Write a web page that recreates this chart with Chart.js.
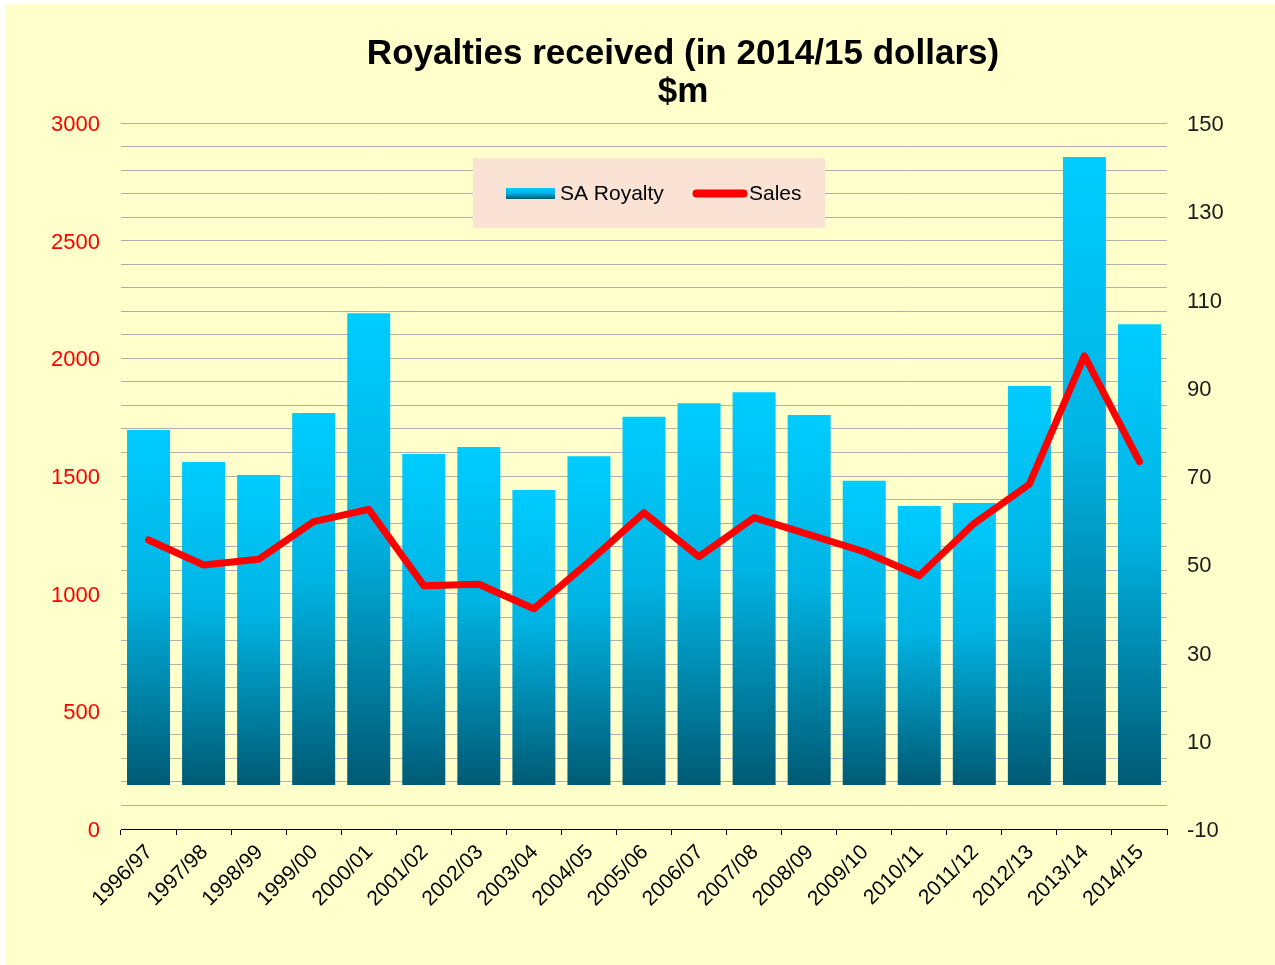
<!DOCTYPE html>
<html>
<head>
<meta charset="utf-8">
<script src="https://cdn.jsdelivr.net/npm/chart.js@4.4.1/dist/chart.umd.min.js"></script>
<style>
  html, body { margin: 0; padding: 0; background: #ffffff; }
  #wrap { position: absolute; left: 5px; top: 4px; width: 1270px; height: 961px; background: #FFFFCC; }
  canvas { display: block; }
</style>
</head>
<body>
<div id="wrap"><canvas id="c" width="1270" height="961"></canvas></div>
<script>
const TITLE_LINES = ['Royalties received (in 2014/15 dollars)', '$m'];
const categories = ['1996/97','1997/98','1998/99','1999/00','2000/01','2001/02','2002/03','2003/04','2004/05','2005/06','2006/07','2007/08','2008/09','2009/10','2010/11','2011/12','2012/13','2013/14','2014/15'];
const royaltyLabel = 'SA Royalty';
const royalty = [80.4, 73.2, 70.2, 84.3, 106.9, 75.0, 76.6, 66.8, 74.5, 83.4, 86.5, 89.0, 83.8, 68.9, 63.2, 63.9, 90.4, 142.3, 104.4];
const salesLabel = 'Sales';
const sales = [1228, 1122, 1146, 1306, 1358, 1034, 1040, 936, 1135, 1344, 1157, 1323, 1251, 1178, 1076, 1299, 1465, 2010, 1561];
const leftTicks = { min: 0, max: 3000, step: 100, labelEvery: 500 };
const rightTicks = { min: -10, max: 150, step: 20 };

const FONT = '"Liberation Sans", Arial, Helvetica, sans-serif';
const CYAN = '#00CCFF';

function addStops(g) {
  g.addColorStop(0, '#00CCFF');
  g.addColorStop(0.45, '#00B4E4');
  g.addColorStop(1, '#005A74');
  return g;
}

function barFill(ctx) {
  const chart = ctx.chart;
  if (!chart.chartArea || ctx.type !== 'data' || !chart.scales.y1) return CYAN;
  const s = chart.scales.y1;
  const top = s.getPixelForValue(ctx.raw);
  const base = s.getPixelForValue(0);
  if (!isFinite(top) || !isFinite(base) || top === base) return CYAN;
  return addStops(chart.ctx.createLinearGradient(0, top, 0, base));
}

const overlayPlugin = {
  id: 'overlay',
  afterDraw(chart) {
    const c = chart.ctx;
    c.save();
    // Title
    c.fillStyle = '#000000';
    c.font = 'bold 35px ' + FONT;
    c.textAlign = 'center';
    c.textBaseline = 'alphabetic';
    c.fillText(TITLE_LINES[0], 678, 60);
    c.fillText(TITLE_LINES[1], 678, 98);
    // Legend box
    c.fillStyle = '#FAE3D5';
    c.fillRect(468, 154, 352, 70);
    // Royalty swatch
    c.fillStyle = addStops(c.createLinearGradient(0, 184, 0, 195));
    c.fillRect(501, 184, 49, 11);
    c.fillStyle = '#000000';
    c.font = '21px ' + FONT;
    c.textAlign = 'left';
    c.fillText(chart.data.datasets[1].label, 555, 196);
    // Sales swatch
    c.strokeStyle = '#FF0000';
    c.lineWidth = 8;
    c.lineCap = 'round';
    c.beginPath();
    c.moveTo(691.5, 189.5);
    c.lineTo(738.5, 189.5);
    c.stroke();
    c.fillText(chart.data.datasets[0].label, 744, 196);
    c.restore();
  }
};

new Chart(document.getElementById('c'), {
  type: 'bar',
  data: {
    labels: categories,
    datasets: [
      {
        type: 'line',
        label: salesLabel,
        data: sales,
        yAxisID: 'y',
        borderColor: '#FF0000',
        backgroundColor: '#FF0000',
        borderWidth: 7,
        pointRadius: 0,
        pointHoverRadius: 0,
        tension: 0,
        borderJoinStyle: 'round',
        borderCapStyle: 'round',
        fill: false,
        order: 0
      },
      {
        type: 'bar',
        label: royaltyLabel,
        data: royalty,
        yAxisID: 'y1',
        backgroundColor: barFill,
        borderWidth: 0,
        barPercentage: 0.781,
        categoryPercentage: 1.0,
        order: 1
      }
    ]
  },
  options: {
    responsive: false,
    animation: false,
    events: [],
    layout: { padding: { top: 119, left: 0, right: 0, bottom: 0 } },
    plugins: {
      legend: { display: false },
      title: { display: false },
      tooltip: { enabled: false }
    },
    scales: {
      x: {
        position: 'bottom',
        offset: true,
        grid: {
          display: true,
          offset: true,
          drawOnChartArea: false,
          drawTicks: true,
          tickLength: 6,
          color: '#000000'
        },
        border: { display: true, color: '#000000', width: 1 },
        ticks: {
          autoSkip: false,
          minRotation: 45,
          maxRotation: 45,
          padding: 5,
          labelOffset: 1,
          color: '#000000',
          font: { family: FONT, size: 21 }
        },
        afterFit(scale) { scale.height = 136; }
      },
      y: {
        position: 'left',
        min: leftTicks.min,
        max: leftTicks.max,
        grid: { color: '#B0B0B0', lineWidth: 1, drawTicks: false },
        border: { display: false },
        ticks: {
          stepSize: leftTicks.step,
          autoSkip: false,
          padding: 21,
          labelOffset: 2,
          color: '#FF0000',
          font: { family: FONT, size: 22 },
          callback: (v) => (v % leftTicks.labelEvery === 0 ? String(v) : '')
        },
        afterFit(scale) { scale.width = 116; }
      },
      y1: {
        position: 'right',
        min: rightTicks.min,
        max: rightTicks.max,
        grid: { display: false, drawOnChartArea: false, drawTicks: false },
        border: { display: false },
        ticks: {
          stepSize: rightTicks.step,
          padding: 20,
          labelOffset: 2,
          color: '#1A1A1A',
          font: { family: FONT, size: 22 }
        },
        afterFit(scale) { scale.width = 108; }
      }
    }
  },
  plugins: [overlayPlugin]
});
</script>
</body>
</html>
